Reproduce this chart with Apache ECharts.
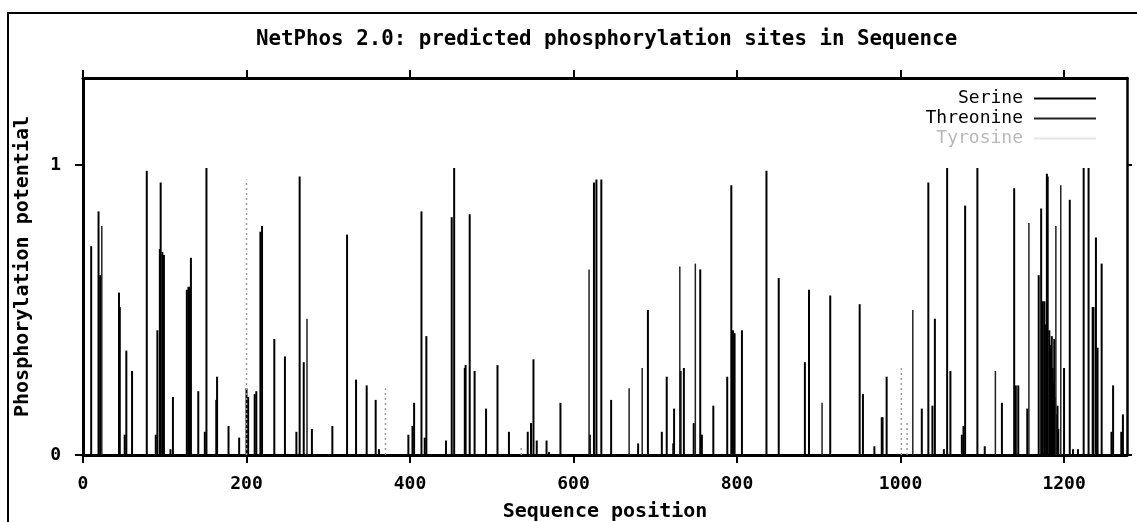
<!DOCTYPE html>
<html>
<head>
<meta charset="utf-8">
<script src="https://cdn.jsdelivr.net/npm/echarts@6/dist/echarts.min.js"></script>
<style>html,body{margin:0;padding:0;background:#fff;}#c{width:1137px;height:522px;}</style>
</head>
<body>
<div id="c"></div>
<script>
// [sequence position, phosphorylation potential]
var serine = [
  [10,0.72],[19,0.84],[21,0.62],[44,0.56],[45,0.51],[51,0.07],[53,0.36],[60,0.29],[78,0.98],[89,0.07],
  [91,0.43],[94,0.71],[95,0.94],[97,0.70],[99,0.69],[107,0.02],[110,0.20],[127,0.57],[129,0.58],[130,0.58],
  [132,0.68],[141,0.22],[149,0.08],[151,0.99],[163,0.19],[164,0.27],[178,0.10],[191,0.06],[200,0.23],[202,0.20],
  [210,0.21],[212,0.22],[217,0.77],[219,0.79],[234,0.40],[247,0.34],[261,0.08],[265,0.96],[270,0.32],[280,0.09],
  [305,0.10],[323,0.76],[334,0.26],[347,0.24],[358,0.19],[362,0.02],[398,0.07],[403,0.10],[405,0.18],[414,0.84],
  [418,0.06],[420,0.41],[444,0.05],[451,0.82],[454,0.99],[467,0.30],[468,0.31],[473,0.83],[479,0.29],[493,0.16],
  [507,0.31],[521,0.08],[544,0.08],[548,0.11],[551,0.33],[555,0.05],[567,0.05],[570,0.01],[584,0.18],[620,0.07],
  [625,0.94],[628,0.95],[634,0.95],[646,0.19],[679,0.04],[691,0.50],[708,0.08],[714,0.27],[722,0.04],[723,0.16],
  [731,0.29],[735,0.30],[747,0.11],[755,0.64],[757,0.07],[771,0.17],[788,0.27],[793,0.93],[795,0.43],[797,0.42],
  [806,0.43],[836,0.98],[851,0.61],[883,0.32],[888,0.57],[914,0.55],[950,0.52],[954,0.21],[968,0.03],[977,0.13],
  [978,0.13],[983,0.27],[1026,0.16],[1034,0.94],[1039,0.17],[1042,0.47],[1053,0.02],[1057,0.99],[1061,0.29],[1075,0.07],
  [1077,0.10],[1079,0.86],[1094,0.99],[1103,0.03],[1124,0.18],[1139,0.92],[1141,0.24],[1144,0.24],[1155,0.16],[1169,0.62],
  [1172,0.85],[1174,0.53],[1176,0.53],[1178,0.45],[1179,0.97],[1180,0.96],[1182,0.43],[1183,0.35],[1184,0.38],[1185,0.41],
  [1186,0.30],[1187,0.25],[1188,0.40],[1189,0.20],[1191,0.14],[1192,0.17],[1193,0.09],[1200,0.30],[1207,0.88],[1211,0.02],
  [1217,0.02],[1224,0.99],[1230,0.99],[1235,0.51],[1236,0.51],[1239,0.75],[1241,0.37],[1246,0.66],[1258,0.08],[1260,0.24],
  [1270,0.08],[1272,0.14]
];
var threonine = [
  [23,0.79],[274,0.47],[619,0.64],[668,0.23],[684,0.30],[730,0.65],[749,0.66],[904,0.18],[1015,0.50],[1116,0.29],
  [1157,0.80],[1190,0.79],[1196,0.93]
];
var tyrosine = [
  [200,0.95],[370,0.23],[536,0.03],[1001,0.31],[1008,0.11]
];
var xTicks = [0,200,400,600,800,1000,1200];
var yTicks = [0,1];

var mono = 'DejaVu Sans Mono';

function impulse(style) {
  return function (params, api) {
    var p0 = api.coord([api.value(0), 0]);
    var p1 = api.coord([api.value(0), api.value(1)]);
    return { type: 'line', shape: { x1: p0[0], y1: p0[1], x2: p1[0], y2: p1[1] }, style: style };
  };
}
function plain(v) { return String(v); }

var chart = echarts.init(document.getElementById('c'), null, { renderer: 'canvas' });
chart.setOption({
  animation: false,
  backgroundColor: '#fff',
  title: {
    text: 'NetPhos 2.0: predicted phosphorylation sites in Sequence',
    left: 256, top: 29, padding: 0,
    textStyle: { fontFamily: mono, fontWeight: 'bold', fontSize: 20.8, color: '#000' }
  },
  graphic: [{
    type: 'rect', shape: { x: 8, y: 13, width: 1300, height: 700 },
    style: { fill: 'none', stroke: '#000', lineWidth: 2 }, silent: true, z: -1
  }],
  legend: {
    orient: 'vertical', align: 'right', right: 36, top: 84, itemGap: 1,
    itemWidth: 62, itemHeight: 2, icon: 'rect',
    textStyle: { fontFamily: mono, fontSize: 18, color: '#000', padding: [0, 6, 0, 0], lineHeight: 19 },
    data: [
      { name: 'Serine' },
      { name: 'Threonine' },
      { name: 'Tyrosine', textStyle: { color: '#b8b8b8' } }
    ]
  },
  grid: { left: 83, right: 10, top: 78, bottom: 67, outerBoundsMode: 'none', containLabel: false },
  xAxis: [{
    type: 'value', min: 0, max: 1277, position: 'bottom',
    name: 'Sequence position', nameLocation: 'middle', nameGap: 47,
    nameTextStyle: { fontFamily: mono, fontWeight: 'bold', fontSize: 20, color: '#000' },
    axisLine: { show: true, onZero: false, lineStyle: { color: '#000', width: 3 } },
    axisTick: { show: true, inside: false, length: 8, customValues: xTicks, lineStyle: { color: '#000', width: 2 } },
    axisLabel: { customValues: xTicks, formatter: plain, margin: 20, fontFamily: mono, fontWeight: 'bold', fontSize: 18, color: '#000' },
    splitLine: { show: false }
  }, {
    type: 'value', min: 0, max: 1277, position: 'top',
    axisLine: { show: true, onZero: false, lineStyle: { color: '#000', width: 3 } },
    axisTick: { show: true, inside: false, length: 8, customValues: xTicks, lineStyle: { color: '#000', width: 2 } },
    axisLabel: { show: false },
    splitLine: { show: false }
  }],
  yAxis: [{
    type: 'value', min: 0, max: 1.3, position: 'left',
    name: 'Phosphorylation potential', nameLocation: 'middle', nameGap: 50, nameRotate: 90,
    nameTextStyle: { fontFamily: mono, fontWeight: 'bold', fontSize: 20, color: '#000' },
    axisLine: { show: true, onZero: false, lineStyle: { color: '#000', width: 3 } },
    axisTick: { show: true, inside: false, length: 8, customValues: yTicks, lineStyle: { color: '#000', width: 2 } },
    axisLabel: { customValues: yTicks, formatter: plain, margin: 22, fontFamily: mono, fontWeight: 'bold', fontSize: 18, color: '#000' },
    splitLine: { show: false }
  }, {
    type: 'value', min: 0, max: 1.3, position: 'right',
    axisLine: { show: true, onZero: false, lineStyle: { color: '#000', width: 2.5 } },
    axisTick: { show: true, inside: false, length: 5, customValues: yTicks, lineStyle: { color: '#000', width: 2 } },
    axisLabel: { show: false },
    splitLine: { show: false }
  }],
  series: [{
    name: 'Serine', type: 'custom', xAxisIndex: 0, yAxisIndex: 0,
    itemStyle: { color: '#000' },
    encode: { x: 0, y: 1 },
    renderItem: impulse({ stroke: '#000', lineWidth: 2 }),
    data: serine
  }, {
    name: 'Threonine', type: 'custom', xAxisIndex: 0, yAxisIndex: 0,
    itemStyle: { color: '#222' },
    encode: { x: 0, y: 1 },
    renderItem: impulse({ stroke: '#222', lineWidth: 1.5 }),
    data: threonine
  }, {
    name: 'Tyrosine', type: 'custom', xAxisIndex: 0, yAxisIndex: 0,
    itemStyle: { color: '#e4e4e4' },
    encode: { x: 0, y: 1 },
    renderItem: impulse({ stroke: '#999', lineWidth: 1.5, lineDash: [2, 3] }),
    data: tyrosine
  }]
});
</script>
</body>
</html>
